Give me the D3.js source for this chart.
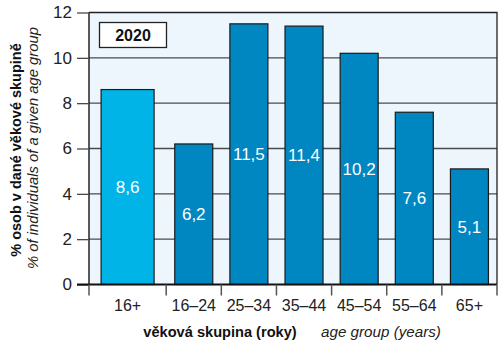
<!DOCTYPE html>
<html><head><meta charset="utf-8">
<script src="https://cdn.jsdelivr.net/npm/d3@7"></script>
<style>body{margin:0;background:#fff}svg{display:block;font-family:"Liberation Sans",Arial,sans-serif}</style>
</head><body><svg id="c" width="500" height="343"></svg>
<script>
const categories = ["16+","16–24","25–34","35–44","45–54","55–64","65+"];
const values = [8.6,6.2,11.5,11.4,10.2,7.6,5.1];
const labels = ["8,6","6,2","11,5","11,4","10,2","7,6","5,1"];
const yTicks = [0,2,4,6,8,10,12];
const year = "2020";
const yTitleCz = "% osob v dané věkové skupině";
const yTitleEn = "% of individuals of a given age group";
const xTitleCz = "věková skupina (roky)";
const xTitleEn = "age group (years)";

const svg = d3.select("#c");
const L = 89, R = 497, T = 12.5, B = 284.5;
const widths = categories.map((d,i)=> i===0 ? 1.4 : 1);
const starts = []; let acc = 0; widths.forEach(w=>{starts.push(acc); acc+=w;});
const x = d3.scaleLinear().domain([0, acc]).range([L, R]);
const y = d3.scaleLinear().domain([0, 12]).range([B, T]);

svg.append("rect").attr("x",L).attr("y",T).attr("width",R-L).attr("height",B-T).attr("fill","#eef6fd");

// gridlines
svg.append("g").selectAll("line").data(yTicks.filter(t=>t>0 && t<12)).join("line")
  .attr("x1",L).attr("x2",R).attr("y1",d=>y(d)).attr("y2",d=>y(d))
  .attr("stroke","#4a4a4a").attr("stroke-width",1.3);

// bars
const barW = i => i===0 ? 53 : 38;
svg.append("g").selectAll("rect").data(values).join("rect")
  .attr("x",(d,i)=> x(starts[i]+widths[i]/2) - barW(i)/2)
  .attr("width",(d,i)=>barW(i))
  .attr("y",d=>y(d)).attr("height",d=>B-y(d))
  .attr("fill",(d,i)=> i===0 ? "#00b4e8" : "#0087c1")
  .attr("stroke","#1a1a1a").attr("stroke-width",1.2);

// value labels
svg.append("g").selectAll("text").data(values).join("text")
  .attr("x",(d,i)=> x(starts[i]+widths[i]/2))
  .attr("y",d=>y(d/2))
  .attr("dy","0.35em").attr("text-anchor","middle")
  .attr("fill","#fff").attr("font-size",17)
  .text((d,i)=>labels[i]);

// frame
svg.append("path").attr("d",`M${L},${T}H${R}V${B}`).attr("fill","none").attr("stroke","#222").attr("stroke-width",1.3);
svg.append("line").attr("x1",L).attr("x2",L).attr("y1",T).attr("y2",B).attr("stroke","#222").attr("stroke-width",1.5);

// y axis
const yAxis = d3.axisLeft(y).tickValues(yTicks).tickSize(12).tickPadding(5).tickFormat(d=>d);
const ga = svg.append("g").attr("transform",`translate(${L},0)`).call(yAxis);
ga.select(".domain").remove();
ga.selectAll("line").attr("stroke","#4a4a4a").attr("stroke-width",1.3);
ga.selectAll("text").attr("font-size",17).attr("fill","#222").attr("font-family","Liberation Sans, Arial, sans-serif");

// x axis
const bounds = starts.concat([acc]);
svg.append("line").attr("x1",L-12).attr("x2",R).attr("y1",B).attr("y2",B).attr("stroke","#111").attr("stroke-width",2);
svg.append("g").selectAll("line").data(bounds).join("line")
  .attr("x1",d=>x(d)).attr("x2",d=>x(d)).attr("y1",B).attr("y2",B+11)
  .attr("stroke","#555").attr("stroke-width",1.5);
svg.append("g").selectAll("text").data(categories).join("text")
  .attr("x",(d,i)=> x(starts[i]+widths[i]/2)).attr("y",305).attr("dy","0.35em")
  .attr("text-anchor","middle").attr("font-size",16).attr("fill","#222").text(d=>d);

// x titles
svg.append("text").attr("x",220).attr("y",332).attr("dy","0.35em").attr("text-anchor","middle")
  .attr("font-size",14.6).attr("font-weight","bold").attr("fill","#111").text(xTitleCz);
svg.append("text").attr("x",381).attr("y",332).attr("dy","0.35em").attr("text-anchor","middle")
  .attr("font-size",15.2).attr("font-style","italic").attr("fill","#222").text(xTitleEn);

// y titles
svg.append("text").attr("transform","translate(16,150) rotate(-90)").attr("dy","0.35em").attr("text-anchor","middle")
  .attr("font-size",14.5).attr("font-weight","bold").attr("fill","#111").text(yTitleCz);
svg.append("text").attr("transform","translate(33,148) rotate(-90)").attr("dy","0.35em").attr("text-anchor","middle")
  .attr("font-size",14.8).attr("font-style","italic").attr("fill","#222").text(yTitleEn);

// year box
svg.append("rect").attr("x",99.5).attr("y",22.5).attr("width",67).attr("height",25)
  .attr("fill","#fff").attr("stroke","#222").attr("stroke-width",1.3);
svg.append("text").attr("x",133).attr("y",35).attr("dy","0.35em").attr("text-anchor","middle")
  .attr("font-size",16).attr("font-weight","bold").attr("fill","#111").text(year);
</script></body></html>
